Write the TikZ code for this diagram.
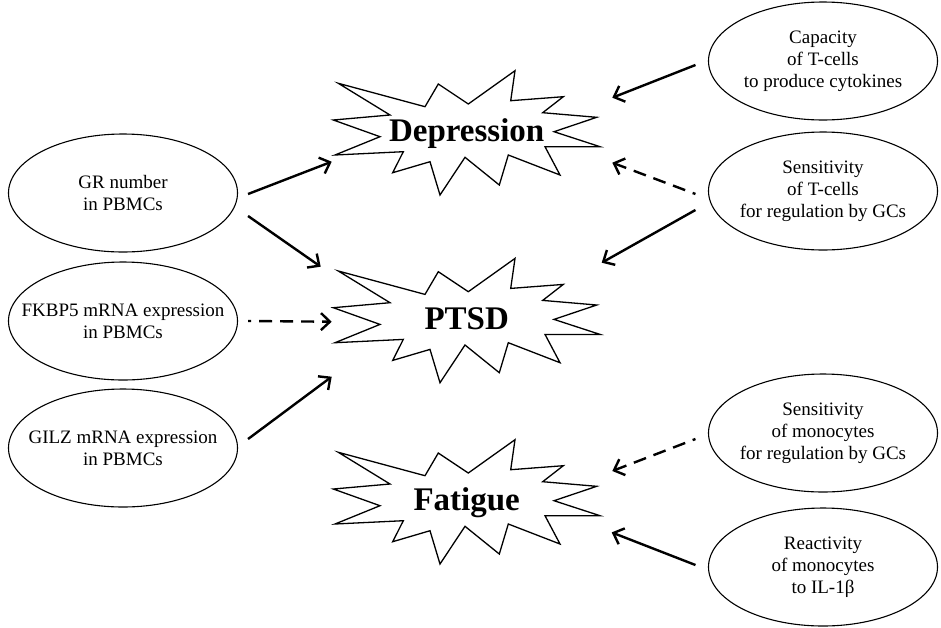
\documentclass[tikz,border=0pt]{standalone}
\usepackage{fontspec}
\setmainfont{Liberation Serif}
\usetikzlibrary{arrows.meta, shapes.geometric}

\begin{document}
\begin{tikzpicture}[x=1pt, y=-1pt,
    factor/.style={ellipse, draw, line width=1.1pt, minimum width=229pt, minimum height=118pt, inner sep=0pt},
    lbl/.style={align=center, font=\fontsize{19}{22}\selectfont},
    outcome/.style={font=\fontsize{33}{33}\bfseries\selectfont, text height=23pt, text depth=7pt, inner sep=0pt},
    link/.style={-{Straight Barb[length=9pt, width=17pt]}, line width=2.4pt},
    weak/.style={link, dash pattern=on 13pt off 8pt, dash phase=10pt}]
            \useasboundingbox (0, 0) rectangle (941, 627);

            % predictors (left)
            \node[factor, label={[lbl]center:{GR number\\in PBMCs}}] at (123, 193) (gr) {};
            \node[factor, label={[lbl]center:{FKBP5 mRNA expression\\in PBMCs}}] at (123, 321) (fkbp) {};
            \node[factor, label={[lbl]center:{GILZ mRNA expression\\in PBMCs}}] at (123, 448) (gilz) {};

            % predictors (right)
            \node[factor, label={[lbl]center:{Capacity\\of T-cells\\to produce cytokines}}] at (823, 61) (cap) {};
            \node[factor, label={[lbl]center:{Sensitivity\\of T-cells\\for regulation by GCs}}] at (823, 191) (tsens) {};
            \node[factor, label={[lbl]center:{Sensitivity\\of monocytes\\for regulation by GCs}}] at (823, 433) (msens) {};
            \node[factor, label={[lbl]center:{Reactivity\\of monocytes\\to IL-1β}}] at (823, 567) (react) {};

            % outcomes
            \node[outcome] at (466.7, 133.4) (dep) {Depression};
            \node[outcome] at (466.7, 321.1) (ptsd) {PTSD};
            \node[outcome] at (466.7, 502.4) (fat) {Fatigue};

            \foreach \s in {dep, ptsd, fat}
                \draw[line width=1.3pt, shift={(\s)}] (-128.4,-50.1) -- (-41.7,-26.7) -- (-28.4,-49.4) -- (1.6,-29.4)
                    -- (48.3,-62.7) -- (44,-32.7) -- (96.6,-36.7) -- (76,-20.7) -- (130,-16.1) -- (87.3,-1.7)
                    -- (133.3,13.3) -- (78.3,13.3) -- (93.3,41.6) -- (41.6,21.6) -- (32.6,51.6) -- (-1.7,23.9)
                    -- (-26.7,61.6) -- (-36.7,28.3) -- (-74,39.3) -- (-63.4,18.3) -- (-131.7,21.6) -- (-86.7,3.3)
                    -- (-133.4,-13.4) -- (-76.7,-18.4) -- cycle;

            \draw[link] ([shift={(10,1)}]gr.east) -- ([shift={(-135,28.3)}]dep.center);
            \draw[link] ([shift={(10,23)}]gr.east) -- ([shift={(-146,-54.4)}]ptsd.center);
            \draw[weak] ([shift={(10,0)}]fkbp.east) -- ([shift={(-135,0.6)}]ptsd.center);
            \draw[link] ([shift={(10,-9)}]gilz.east) -- ([shift={(-135,55.6)}]ptsd.center);

            \draw[link] ([shift={(-12.5,4)}]cap.west) -- ([shift={(145.6,-35.7)}]dep.center);
            \draw[weak] ([shift={(-12.5,3)}]tsens.west) -- ([shift={(145.6,29.3)}]dep.center);
            \draw[link] ([shift={(-12.5,19)}]tsens.west) -- ([shift={(135,-58.4)}]ptsd.center);
            \draw[weak] ([shift={(-12.5,6)}]msens.west) -- ([shift={(145.6,-31.4)}]fat.center);
            \draw[link] ([shift={(-12.5,-2)}]react.west) -- ([shift={(145,30)}]fat.center);
        \end{tikzpicture}
\end{document}
